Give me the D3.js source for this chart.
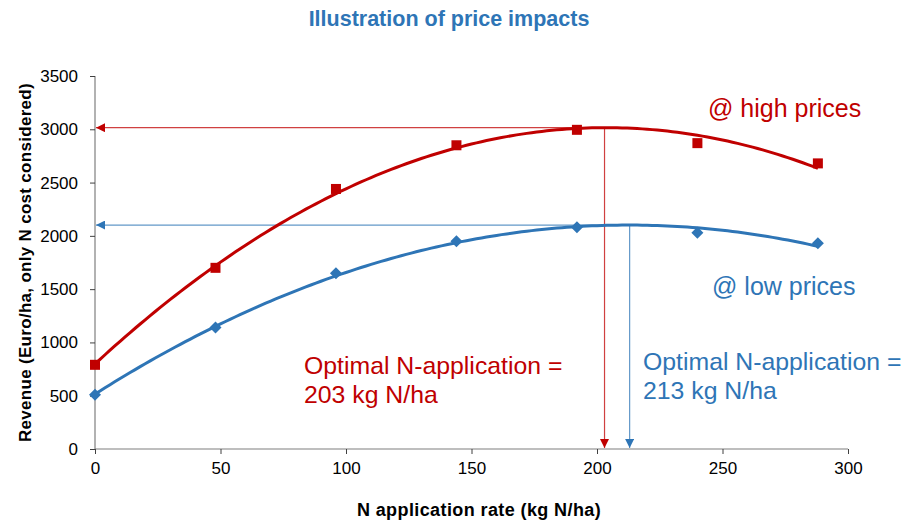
<!DOCTYPE html>
<html>
<head>
<meta charset="utf-8">
<script src="https://cdn.jsdelivr.net/npm/d3@7/dist/d3.min.js"></script>
<style>
  html, body { margin: 0; padding: 0; background: #fff; }
  svg { display: block; font-family: "Liberation Sans", Arial, sans-serif; }
</style>
</head>
<body>
<svg id="chart" width="919" height="521"></svg>
<script>
// N application rates (kg N/ha)
const nRates = [0, 48, 96, 144, 192, 240, 288];
// Revenue at high prices (Euro/ha)
const highPrices = [790, 1700, 2440, 2850, 2995, 2870, 2680];
// Revenue at low prices (Euro/ha)
const lowPrices = [510, 1140, 1650, 1950, 2080, 2030, 1930];
// Optimal N application rates stated in the labels
const optimumHigh = 203;
const optimumLow = 213;

const xTicks = [0, 50, 100, 150, 200, 250, 300];
const yTicks = [0, 500, 1000, 1500, 2000, 2500, 3000, 3500];

const RED = "#c00000";
const BLUE = "#2e75b6";

const svg = d3.select("#chart");
const margin = { left: 95, right: 71, top: 76, bottom: 72 };
const W = 919, H = 521;

const x = d3.scaleLinear().domain([0, 300]).range([margin.left, W - margin.right]);
const y = d3.scaleLinear().domain([0, 3500]).range([H - margin.bottom, margin.top]);

// Least-squares quadratic trendline y = c0 + c1*x + c2*x^2
function quadFit(xs, ys) {
  let s = [0, 0, 0, 0, 0], t = [0, 0, 0];
  xs.forEach((xv, i) => {
    let p = 1;
    for (let k = 0; k < 5; k++) { s[k] += p; if (k < 3) t[k] += p * ys[i]; p *= xv; }
  });
  const A = [[s[0], s[1], s[2], t[0]], [s[1], s[2], s[3], t[1]], [s[2], s[3], s[4], t[2]]];
  for (let i = 0; i < 3; i++) {
    for (let j = i + 1; j < 3; j++) {
      const f = A[j][i] / A[i][i];
      for (let k = i; k < 4; k++) A[j][k] -= f * A[i][k];
    }
  }
  const c = [0, 0, 0];
  for (let i = 2; i >= 0; i--) {
    let v = A[i][3];
    for (let k = i + 1; k < 3; k++) v -= A[i][k] * c[k];
    c[i] = v / A[i][i];
  }
  return xv => c[0] + c[1] * xv + c[2] * xv * xv;
}

const fitHigh = quadFit(nRates, highPrices);
const fitLow = quadFit(nRates, lowPrices);

// Title
svg.append("text")
  .attr("x", 449).attr("y", 26)
  .attr("text-anchor", "middle")
  .attr("fill", BLUE)
  .attr("font-weight", "bold")
  .attr("font-size", 21.5)
  .text("Illustration of price impacts");

// Axes
const gx = svg.append("g").attr("transform", `translate(0,${y(0)})`)
  .call(d3.axisBottom(x).tickValues(xTicks).tickFormat(d3.format("d")).tickSize(5).tickPadding(8));
const gy = svg.append("g").attr("transform", `translate(${x(0)},0)`)
  .call(d3.axisLeft(y).tickValues(yTicks).tickFormat(d3.format("d")).tickSize(5).tickPadding(12));
[gx, gy].forEach(g => {
  g.select(".domain").attr("stroke", "#7f7f7f").attr("stroke-width", 1.2);
  g.selectAll(".tick line").attr("stroke", "#404040");
  g.selectAll(".tick text").attr("font-size", 17).attr("fill", "#000")
    .attr("font-family", "Liberation Sans, Arial, sans-serif");
});
gx.select(".domain").attr("d", `M${x(0)},0H${x(300)}`);
gy.select(".domain").attr("d", `M0,${y(3500)}V${y(0)}`);

// Axis titles
svg.append("text")
  .attr("x", 479).attr("y", 516)
  .attr("text-anchor", "middle")
  .attr("font-weight", "bold").attr("font-size", 18)
  .attr("letter-spacing", 0.4)
  .text("N application rate (kg N/ha)");
svg.append("text")
  .attr("transform", `translate(31,${(y(0) + y(3500)) / 2}) rotate(-90)`)
  .attr("text-anchor", "middle")
  .attr("font-weight", "bold").attr("font-size", 17)
  .attr("letter-spacing", 0.3)
  .text("Revenue (Euro/ha, only N cost considered)");

// Arrowheads
const defs = svg.append("defs");
[["arrRed", RED], ["arrBlue", BLUE]].forEach(([id, col]) => {
  defs.append("marker")
    .attr("id", id).attr("viewBox", "0 0 10 10")
    .attr("refX", 10).attr("refY", 5)
    .attr("markerWidth", 9).attr("markerHeight", 9)
    .attr("markerUnits", "userSpaceOnUse")
    .attr("orient", "auto")
    .append("path").attr("d", "M0,0L10,5L0,10Z").attr("fill", col);
});

// Guide arrows: from the optimum to each axis
function guides(opt, fit, col, marker) {
  const px = x(opt), py = y(fit(opt));
  svg.append("line")
    .attr("x1", px).attr("y1", py).attr("x2", x(0) + 1).attr("y2", py)
    .attr("stroke", col).attr("stroke-width", 1.2).attr("stroke-opacity", 0.75)
    .attr("marker-end", `url(#${marker})`);
  svg.append("line")
    .attr("x1", px).attr("y1", py).attr("x2", px).attr("y2", y(0) - 1)
    .attr("stroke", col).attr("stroke-width", 1.2).attr("stroke-opacity", 0.75)
    .attr("marker-end", `url(#${marker})`);
}
guides(optimumHigh, fitHigh, RED, "arrRed");
guides(optimumLow, fitLow, BLUE, "arrBlue");

// Trendlines
function trend(fit, col) {
  const xs = d3.range(0, 288.01, 2);
  svg.append("path")
    .attr("d", d3.line().x(d => x(d)).y(d => y(fit(d)))(xs))
    .attr("fill", "none").attr("stroke", col).attr("stroke-width", 3);
}
trend(fitHigh, RED);
trend(fitLow, BLUE);

// Markers
svg.append("g").selectAll("rect").data(nRates).join("rect")
  .attr("x", (d) => x(d) - 5)
  .attr("y", (d, i) => y(highPrices[i]) - 5)
  .attr("width", 10).attr("height", 10)
  .attr("fill", RED);
svg.append("g").selectAll("path").data(nRates).join("path")
  .attr("d", (d, i) => {
    const cx = x(d), cy = y(lowPrices[i]), r = 6;
    return `M${cx},${cy - r}L${cx + r},${cy}L${cx},${cy + r}L${cx - r},${cy}Z`;
  })
  .attr("fill", BLUE);

// Annotations
function label(lines, px, py, col, size, lh) {
  const t = svg.append("text").attr("x", px).attr("y", py)
    .attr("fill", col).attr("font-size", size);
  lines.forEach((s, i) => t.append("tspan").attr("x", px).attr("dy", i ? lh : 0).text(s));
}
label(["@ high prices"], 708, 117, RED, 25, 0);
label(["@ low prices"], 712, 295, BLUE, 25, 0);
label(["Optimal N-application =", `${optimumHigh} kg N/ha`], 304, 374, RED, 24.8, 29);
label(["Optimal N-application =", `${optimumLow} kg N/ha`], 643, 370, BLUE, 24.8, 29);
</script>
</body>
</html>
